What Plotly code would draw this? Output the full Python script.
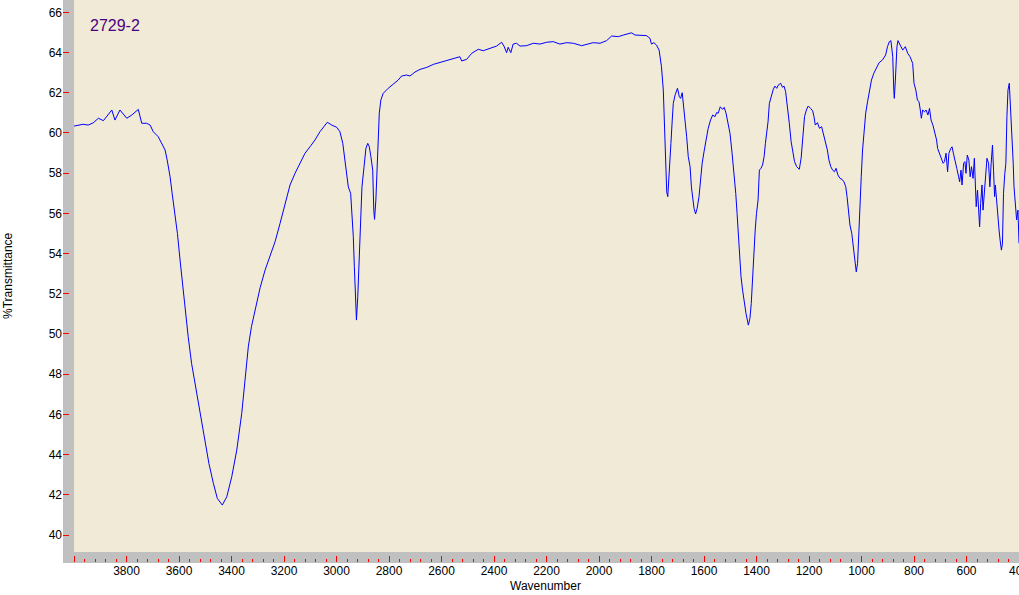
import plotly.graph_objects as go

# Wavenumber (cm-1) and %Transmittance
wavenumber = [
    4000, 3965, 3946, 3927, 3907, 3888, 3856, 3844, 3825, 3799, 3780, 3755, 3742, 3723, 3710,
    3698, 3679, 3666, 3653, 3645, 3634, 3626, 3615, 3606, 3596, 3586, 3575, 3565, 3552, 3539,
    3526, 3514, 3501, 3486, 3469, 3454, 3435, 3418, 3399, 3380, 3361, 3349, 3336, 3324, 3311,
    3291, 3272, 3253, 3234, 3215, 3196, 3177, 3158, 3139, 3120, 3101, 3082, 3063, 3044, 3035,
    3018, 2999, 2987, 2976, 2968, 2961, 2955, 2946, 2941, 2936, 2932, 2928, 2924, 2919, 2914,
    2909, 2903, 2895, 2888, 2881, 2875, 2869, 2862, 2858, 2855, 2850, 2846, 2841, 2837, 2831,
    2822, 2803, 2784, 2765, 2752, 2733, 2720, 2701, 2682, 2656, 2631, 2606, 2581, 2555, 2530,
    2523, 2504, 2485, 2460, 2441, 2416, 2390, 2371, 2362, 2352, 2346, 2336, 2327, 2314, 2301,
    2276, 2250, 2225, 2199, 2174, 2149, 2123, 2098, 2066, 2047, 2022, 1996, 1971, 1952, 1926,
    1907, 1888, 1876, 1863, 1844, 1819, 1806, 1800, 1791, 1781, 1771, 1762, 1755, 1752, 1749,
    1746, 1742, 1738, 1735, 1730, 1726, 1721, 1717, 1710, 1701, 1694, 1689, 1683, 1677, 1671,
    1666, 1660, 1653, 1648, 1643, 1638, 1632, 1626, 1619, 1613, 1607, 1600, 1593, 1584, 1575,
    1567, 1558, 1552, 1546, 1538, 1529, 1523, 1516, 1509, 1501, 1493, 1486, 1479, 1474, 1469,
    1464, 1459, 1453, 1447, 1440, 1431, 1425, 1420, 1415, 1410, 1405, 1400, 1394, 1389, 1383,
    1377, 1371, 1366, 1361, 1356, 1351, 1343, 1336, 1330, 1323, 1317, 1308, 1301, 1295, 1289,
    1283, 1275, 1268, 1261, 1255, 1247, 1237, 1230, 1225, 1222, 1217, 1210, 1203, 1194, 1186,
    1181, 1176, 1168, 1160, 1152, 1146, 1138, 1130, 1124, 1117, 1110, 1103, 1097, 1090, 1082,
    1074, 1067, 1060, 1055, 1050, 1044, 1037, 1031, 1025, 1020, 1015, 1010, 1005, 1001, 996,
    990, 984, 977, 970, 962, 953, 946, 933, 920, 908, 901, 894, 888, 881, 877,
    875, 871, 865, 861, 853, 843, 833, 824, 815, 805, 800, 793, 787, 781, 776,
    772, 767, 760, 754, 747, 741, 735, 728, 721, 714, 710, 705, 697, 689, 684,
    678, 672, 667, 660, 655, 650, 643, 637, 630, 626, 621, 617, 611, 606, 602,
    597, 591, 586, 581, 575, 570, 567, 563, 558, 554, 550, 546, 541, 537, 532,
    527, 522, 516, 511, 506, 501, 497, 493, 490, 486, 481, 476, 472, 467, 463,
    459, 454, 450, 446, 442, 437, 434, 430, 426, 422, 419, 414, 409, 404, 400,
]
transmittance = [
    60.34, 60.43, 60.39, 60.50, 60.73, 60.61, 61.14, 60.64, 61.14, 60.73, 60.89, 61.17, 60.48, 60.48, 60.39,
    60.06, 59.81, 59.48, 59.15, 58.65, 57.82, 56.99, 56.00, 55.00, 53.68, 52.35, 51.02, 49.86, 48.53, 47.54,
    46.55, 45.55, 44.56, 43.56, 42.57, 41.82, 41.49, 41.90, 42.90, 44.22, 46.05, 47.71, 49.36, 50.36, 51.19,
    52.30, 53.18, 53.84, 54.59, 55.50, 56.50, 57.41, 57.99, 58.49, 58.99, 59.31, 59.65, 60.06, 60.39, 60.53,
    60.39, 60.28, 60.06, 59.48, 58.65, 57.82, 57.32, 56.99, 56.00, 54.84, 53.34, 52.02, 50.69, 51.85, 53.68,
    55.50, 57.32, 58.32, 59.23, 59.48, 59.31, 58.82, 58.15, 56.16, 55.70, 56.66, 58.15, 59.48, 60.98, 61.64,
    61.97, 62.22, 62.43, 62.63, 62.83, 62.88, 62.83, 63.03, 63.16, 63.26, 63.41, 63.51, 63.58, 63.68, 63.79,
    63.58, 63.66, 63.96, 64.16, 64.09, 64.19, 64.32, 64.51, 64.32, 63.99, 64.26, 63.99, 64.42, 64.46, 64.32,
    64.34, 64.46, 64.42, 64.51, 64.54, 64.42, 64.49, 64.46, 64.34, 64.42, 64.49, 64.46, 64.59, 64.82, 64.79,
    64.87, 64.95, 64.98, 64.87, 64.87, 64.84, 64.71, 64.42, 64.49, 64.37, 64.12, 63.29, 62.13, 60.98, 59.31,
    57.66, 57.07, 56.83, 57.41, 58.24, 59.48, 60.64, 61.47, 61.89, 62.22, 61.80, 61.72, 62.00, 61.30, 60.64,
    59.81, 58.82, 58.32, 57.32, 56.66, 56.25, 55.97, 56.25, 56.83, 57.66, 58.49, 59.06, 59.65, 60.23, 60.64,
    60.89, 60.81, 61.01, 60.98, 61.30, 61.17, 61.27, 60.98, 60.56, 59.98, 58.99, 58.15, 56.99, 56.00, 54.84,
    53.51, 52.85, 52.18, 51.52, 51.02, 50.44, 50.78, 51.52, 52.85, 54.01, 55.17, 56.00, 56.66, 58.15, 58.24,
    58.40, 58.82, 59.48, 60.06, 60.56, 61.47, 61.89, 62.17, 62.33, 62.22, 62.38, 62.47, 62.27, 62.33, 62.05,
    61.47, 60.48, 59.56, 58.99, 58.57, 58.32, 58.19, 58.74, 59.65, 60.31, 60.81, 61.14, 61.34, 61.22, 61.10,
    60.81, 60.39, 60.51, 60.23, 60.31, 59.98, 59.65, 59.15, 58.65, 58.32, 58.15, 58.07, 58.24, 57.91, 57.74,
    57.69, 57.57, 57.32, 56.83, 56.16, 55.42, 55.00, 54.34, 53.51, 53.09, 53.51, 55.33, 56.50, 57.82, 59.15,
    60.14, 60.98, 61.55, 62.13, 62.63, 62.97, 63.13, 63.49, 63.63, 63.88, 64.29, 64.54, 64.59, 63.79, 62.13,
    61.72, 62.63, 64.29, 64.59, 64.37, 64.12, 64.29, 63.96, 63.79, 63.46, 62.47, 62.13, 61.64, 61.55, 61.14,
    60.73, 61.14, 61.05, 61.14, 60.89, 61.22, 60.64, 60.39, 59.98, 59.65, 59.23, 59.06, 58.82, 58.49, 58.57,
    58.99, 58.07, 58.99, 59.23, 59.31, 58.99, 58.65, 58.24, 57.82, 57.57, 58.15, 57.41, 58.49, 58.57, 57.99,
    58.90, 58.65, 57.82, 58.32, 57.74, 58.74, 57.32, 56.33, 57.16, 56.00, 55.33, 56.50, 57.41, 56.16, 57.16,
    58.07, 58.74, 58.49, 57.32, 58.49, 59.40, 58.15, 56.83, 57.41, 56.66, 55.67, 55.17, 54.67, 54.17, 54.51,
    57.00, 57.99, 58.49, 60.81, 62.13, 62.47, 61.80, 60.81, 59.81, 58.49, 57.32, 56.50, 55.67, 56.16, 54.51,
]

x_major = list(range(4000, 399, -200))
x_labels = ["" if v == 4000 else str(v) for v in x_major]
y_major = list(range(40, 67, 2))
y_labels = [str(v) for v in y_major]
sample_name = "2729-2"
x_title = "Wavenumber"
y_title = "%Transmittance"

W, H = 1019, 595
ml, mb = 63, 33
pw, ph = W - ml, H - mb

fig = go.Figure()
fig.add_trace(go.Scatter(x=wavenumber, y=transmittance, mode="lines",
                         line=dict(color="#0000FF", width=1), hoverinfo="x+y",
                         showlegend=False))

font = "Liberation Sans, Arial, sans-serif"
fig.update_layout(
    width=W, height=H,
    margin=dict(l=ml, r=0, t=0, b=mb, pad=0, autoexpand=False),
    paper_bgcolor="white",
    plot_bgcolor="#C0C0C0",
    font=dict(family=font, size=12, color="black"),
    xaxis=dict(
        range=[4041.9, 400], showgrid=False, zeroline=False, showline=False,
        automargin=False, ticklabeloverflow="allow",
        tickmode="array", tickvals=x_major, ticktext=x_labels,
        ticks="inside", ticklen=6, tickwidth=1, tickcolor="#FF0000",
        tickfont=dict(size=12, color="black", family=font),
        minor=dict(tickmode="linear", tick0=400, dtick=40, ticks="inside",
                   ticklen=3, tickwidth=1, tickcolor="#FF0000", showgrid=False),
    ),
    yaxis=dict(
        range=[38.657, 66.612], showgrid=False, zeroline=False, showline=False,
        automargin=False,
        tickmode="array", tickvals=y_major, ticktext=y_labels,
        ticks="inside", ticklen=6, tickwidth=1, tickcolor="#FF0000",
        tickfont=dict(size=12, color="black", family=font),
    ),
    shapes=[
        dict(type="rect", xref="paper", yref="paper", x0=11 / pw, x1=1, y0=10 / ph, y1=1,
             fillcolor="#F0EAD6", line=dict(width=0), layer="below"),
        dict(type="rect", xref="paper", yref="paper", x0=0, x1=1, y0=-1 / ph, y1=0,
             fillcolor="#C0C0C0", line=dict(width=0), layer="below"),
    ],
    annotations=[
        dict(text=sample_name, xref="paper", yref="paper", x=(88 - ml) / pw, y=1 - 25 / ph,
             xanchor="left", yanchor="middle", showarrow=False,
             font=dict(size=16, color="#4B0082", family=font)),
        dict(text=x_title, xref="paper", yref="paper", x=(545 - ml) / pw, y=-(586 - ph) / ph,
             xanchor="center", yanchor="middle", showarrow=False,
             font=dict(size=12, color="black", family=font)),
        dict(text=y_title, xref="paper", yref="paper", x=-(ml - 8) / pw, y=1 - 276 / ph,
             xanchor="center", yanchor="middle", showarrow=False, textangle=-90,
             font=dict(size=12, color="black", family=font)),
    ],
)

fig.write_html("out.html", config={"displayModeBar": False},
               post_script="document.body.style.margin='0';document.body.style.padding='0';"
                           "document.body.style.overflow='hidden';")
